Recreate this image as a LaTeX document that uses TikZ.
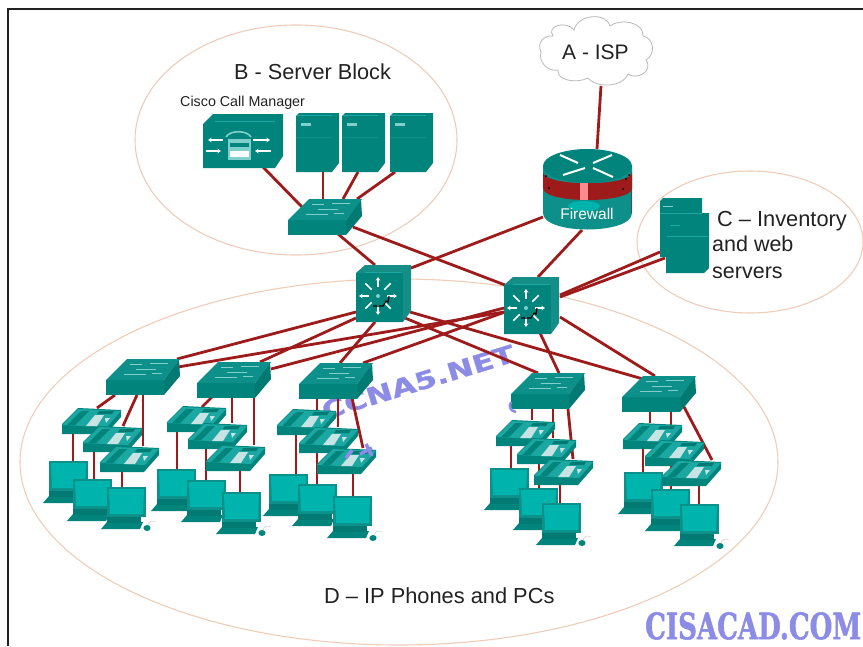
\documentclass[tikz,border=0pt]{standalone}
\usepackage{fontspec}
\usepackage{graphicx}
\setmainfont{Liberation Sans}
\newfontfamily\wmfont[FakeBold=1.5]{DejaVu Serif Bold}
\newfontfamily\wmsans[FakeBold=1]{DejaVu Sans Bold}
\usetikzlibrary{arrows.meta}
\pgfdeclarelayer{base}
\pgfdeclarelayer{links}
\pgfsetlayers{base,links,main}
\definecolor{tealA}{HTML}{00847C}
\definecolor{tealB}{HTML}{0E908A}
\definecolor{tealC}{HTML}{007A73}
\definecolor{tealL}{HTML}{1CA8A2}
\definecolor{tealS}{HTML}{00B4AE}
\definecolor{tealH}{HTML}{7FD0CC}
\definecolor{wire}{HTML}{9E1B1B}
\definecolor{peach}{HTML}{EFCDB8}
\definecolor{wm}{HTML}{8C8CE6}
\definecolor{ink}{HTML}{222222}
\tikzset{
  box/.style={anchor=north west,inner sep=0pt,outer sep=0pt},
  wirelink/.style={draw=wire,line width=2.8pt},
  zone/.style={draw=peach,line width=1.1pt,fill=white},
  label/.style={anchor=base west,inner sep=0pt,text=ink},
  hl/.style={draw=tealH,line width=.8pt},
  whitearrow/.style={white,line width=1.5pt,-{Stealth[length=3.5pt,width=4.5pt]}},
}
\newcommand{\lk}[4]{\draw[wirelink] ([shift={(#2)}]#1.north west) -- ([shift={(#4)}]#3.north west);}
\newcommand{\iconSwitch}[3]{%
  \node[box,minimum width=74pt,minimum height=36pt] (#1) at (#2,#3) {};
  \begin{scope}[shift={(#2,#3)}]
    \fill[tealC] (58,21) -- (73,0) -- (74,17) -- (58,36) -- cycle;
    \fill[tealA] (0,21) -- (58,21) -- (58,36) -- (0,36) -- cycle;
    \fill[tealB] (21,0) -- (74,0) -- (58,21) -- (0,21) -- cycle;
    \draw[hl] (24,5) -- (36,5) (44,4) -- (62,4) (30,10) -- (50,10) (18,15) -- (40,15) (46,14) -- (56,14);
  \end{scope}}
\newcommand{\iconCore}[3]{%
  \node[box,minimum width=56pt,minimum height=57pt] (#1) at (#2,#3) {};
  \begin{scope}[shift={(#2,#3)}]
    \fill[tealA!92!white] (0,8) -- (9,0) -- (55,0) -- (55,46) -- (47,57) -- (0,57) -- cycle;
    \fill[tealA] (0,8) -- (47,8) -- (47,57) -- (0,57) -- cycle;
    \draw[tealL,line width=.8pt] (9,7) -- (46,7);
    \foreach \a in {0,90,180,270}
      \draw[whitearrow] ({22+9*cos(\a)},{31+9*sin(\a)}) -- ({22+19*cos(\a)},{31+19*sin(\a)});
    \foreach \a in {45,135,225,315}
      \draw[white,line width=1.6pt] ({22+9*cos(\a)},{31+9*sin(\a)}) -- ({22+18*cos(\a)},{31+18*sin(\a)});
    \fill[tealH] (22,31) circle (2pt);
    \draw[black,line width=1.2pt] (17,41) -- (27,41) -- (30,36) -- (32,37) -- (33,31);
  \end{scope}}
\newcommand{\iconPhone}[3]{%
  \node[box,minimum width=59pt,minimum height=26pt] (#1) at (#2,#3) {};
  \begin{scope}[shift={(#2,#3)}]
    \fill[tealA] (0,16) -- (16,0) -- (59,2) -- (59,9) -- (44,26) -- (0,26) -- cycle;
    \fill[tealL] (0,17) -- (16,1) -- (59,3) -- (45,19) -- cycle;
    \fill[tealA] (5,17) -- (19,3) -- (27,3) -- (13,17) -- cycle;
    \fill[white!78!teal] (24,18) -- (33,7) -- (42,7) -- (35,18) -- cycle;
    \fill[tealC] (37,3) -- (52,3) -- (50,6) -- (35,6) -- cycle;
    \fill[white!78!teal] (43,10) -- (48,10) -- (44,15) -- cycle;
  \end{scope}}
\newcommand{\iconPC}[3]{%
  \node[box,minimum width=45pt,minimum height=42pt] (#1) at (#2,#3) {};
  \begin{scope}[shift={(#2,#3)}]
    \fill[tealA] (0,42) -- (6,35) -- (42,35) -- (39,42) -- cycle;
    \fill[tealC] (6,28) -- (40,28) -- (40,36) -- (6,36) -- cycle;
    \fill[tealB] (6,0) -- (45,0) -- (45,30) -- (6,30) -- cycle;
    \fill[tealS] (8,2) -- (43,2) -- (42,27) -- (9,27) -- cycle;
  \end{scope}}
\newcommand{\iconMouse}[2]{%
  \draw[gray!35,line width=.6pt] (#1+1,#2-1) .. controls (#1+1,#2-6) and (#1+6,#2-7) .. (#1+9,#2-5);
  \fill[tealA] (#1,#2+1) ellipse (3.6pt and 3pt);}
\newcommand{\iconTower}[3]{%
  \node[box,minimum width=43pt,minimum height=59pt] (#1) at (#2,#3) {};
  \begin{scope}[shift={(#2,#3)}]
    \fill[tealA] (0,3) -- (3,0) -- (43,0) -- (43,50) -- (36,59) -- (0,59) -- cycle;
    \fill[tealH] (5,10) rectangle (15,13);
    \draw[tealB,line width=.6pt] (0,24) -- (36,24);
    \draw[tealL,line width=.6pt] (1,2) -- (36,2);
  \end{scope}}
\begin{document}
\begin{tikzpicture}[x=1pt,y=-1pt]
\useasboundingbox (0,0) rectangle (863,646);
\begin{pgfonlayer}{base}
\fill[white] (0,0) rectangle (863,646);
\draw[ink,line width=2pt] (8,646) -- (8,9) -- (863,9);
\draw[zone] (296,140) ellipse (161pt and 115pt);
\draw[zone] (750,242) ellipse (113pt and 71pt);
\draw[zone] (399,462) ellipse (379pt and 183pt);
\node[text=wm,rotate=17,inner sep=0pt] (wmark) at (418,382) {\resizebox{200pt}{18pt}{\fontsize{30}{32}\selectfont\wmsans CCNA5.NET}};
\end{pgfonlayer}
% cloud
\node[box,minimum width=113pt,minimum height=68pt] (isp) at (539,17) {};
\draw[draw=gray!55,fill=white,line width=.8pt] (541,52)
  .. controls (536,42) and (545,35) .. (553,36)
  .. controls (546,26) and (566,20) .. (574,30)
  .. controls (578,14) and (606,12) .. (610,26)
  .. controls (620,18) and (644,22) .. (643,36)
  .. controls (654,38) and (656,54) .. (646,60)
  .. controls (654,72) and (636,80) .. (628,74)
  .. controls (622,88) and (596,88) .. (588,78)
  .. controls (576,84) and (556,80) .. (558,70)
  .. controls (548,72) and (538,62) .. (541,52) -- cycle;
% switches
\iconSwitch{sw1}{106}{359}
\iconSwitch{sw2}{197}{362}
\iconSwitch{sw3}{299}{363}
\iconSwitch{sw4}{511}{373}
\iconSwitch{sw5}{622}{376}
\iconSwitch{ss}{288}{199}
\iconCore{s1}{356}{265}
\iconCore{s2}{504}{277}
% PCs and phones
\iconPC{A1}{43}{461}\iconPC{A2}{67}{479}\iconPC{A3}{101}{487}
\iconPC{B1}{151}{469}\iconPC{B2}{181}{480}\iconPC{B3}{216}{492}
\iconPC{C1}{263}{474}\iconPC{C2}{292}{484}\iconPC{C3}{327}{496}
\iconPC{D1}{484}{468}\iconPC{D2}{513}{488}\iconPC{D3}{536}{503}
\iconPC{E1}{618}{472}\iconPC{E2}{645}{489}\iconPC{E3}{674}{504}
\iconPhone{a1}{62}{408}\iconPhone{a2}{83}{426}\iconPhone{a3}{100}{446}
\iconPhone{b1}{167}{406}\iconPhone{b2}{188}{423}\iconPhone{b3}{206}{445}
\iconPhone{c1}{277}{409}\iconPhone{c2}{299}{427}\iconPhone{c3}{317}{448}
\iconPhone{d1}{496}{420}\iconPhone{d2}{517}{438}\iconPhone{d3}{534}{459}
\iconPhone{e1}{623}{423}\iconPhone{e2}{645}{440}\iconPhone{e3}{662}{460}
\iconMouse{147}{527}\iconMouse{262}{532}\iconMouse{373}{537}\iconMouse{582}{542}\iconMouse{720}{545}
% servers
\iconTower{sv1}{296}{113}\iconTower{sv2}{342}{113}\iconTower{sv3}{390}{113}
% call manager
\node[box,minimum width=80pt,minimum height=54pt] (cm) at (203,114) {};
\begin{scope}[shift={(203,114)}]
  \fill[tealA] (0,10) -- (10,0) -- (80,0) -- (80,42) -- (72,54) -- (0,54) -- cycle;
  \draw[tealL,line width=1pt] (12,7) -- (72,7);
  \draw[tealH,line width=1.6pt] (23,23) .. controls (27,16) and (44,16) .. (48,23);
  \fill[tealH] (25,25) rectangle (48,46);
  \fill[tealA] (27,29) rectangle (46,33);
  \fill[white] (27,37) rectangle (46,43);
  \draw[whitearrow] (20,26) -- (5,26);
  \draw[whitearrow] (3,37) -- (18,37);
  \draw[whitearrow] (50,26) -- (67,26);
  \draw[whitearrow] (68,37) -- (52,37);
\end{scope}
% firewall
\node[box,minimum width=89pt,minimum height=81pt] (fw) at (543,149) {};
\begin{scope}[shift={(543,149)}]
  \fill[tealB] (0,17) -- (0,64) .. controls (0,86) and (89,86) .. (89,64) -- (89,17) -- cycle;
  \fill[tealS] (41,57) ellipse (16pt and 5pt);
  \draw[black!70,line width=1pt] (88.5,25) -- (88.5,64);
  \fill[wire] (0,23) .. controls (0,38) and (89,38) .. (89,23) -- (89,39) .. controls (89,55) and (0,55) .. (0,39) -- cycle;
  \fill[red!45!white] (37,33) rectangle (45,51);
  \fill[black] (3,27) circle (1pt) (6,39) circle (1pt) (83,30) circle (1.2pt) (86,26) circle (1pt) (80,40) circle (1pt);
  \fill[tealA] (44.5,17) ellipse (44.5pt and 17pt);
  \draw[white,line width=2pt] (17,6) -- (35,14) (69,6) -- (50,14) (20,26) -- (42,19) (70,28) -- (50,19);
  \node[anchor=base,inner sep=0pt,text=white,font=\fontsize{15.5}{17}\selectfont] (fwlabel) at (44,70) {Firewall};
\end{scope}
% inventory servers
\node[box,minimum width=49pt,minimum height=75pt] (csv) at (660,198) {};
\begin{scope}[shift={(660,198)}]
  \fill[tealA] (0,3) -- (3,0) -- (42,0) -- (42,59) -- (0,59) -- cycle;
  \draw[tealH,line width=1pt] (3,8) -- (13,8);
  \fill[tealA] (6,17) -- (9,15) -- (49,15) -- (49,70) -- (44,75) -- (6,75) -- cycle;
  \draw[tealL,line width=.8pt] (0,15) -- (42,15) (10,27) -- (20,27) (7,38) -- (48,38);
\end{scope}
% links, on the layer below the icons
\begin{pgfonlayer}{links}
\lk{isp}{62,69}{fw}{54,0}
\lk{fw}{0,68}{s1}{55,3}
\lk{fw}{39,81}{s2}{34,0}
\lk{cm}{60,53}{ss}{14,8}
\lk{sv1}{27,59}{ss}{35,0}
\lk{sv2}{16,59}{ss}{55,0}
\lk{sv3}{5,59}{ss}{69,0}
\lk{ss}{50,35}{s1}{19,0}
\lk{ss}{65,28}{s2}{1,8}
\lk{csv}{0,54}{s2}{56,18}
\lk{csv}{5,60}{s2}{56,20}
\lk{s1}{0,47}{sw1}{71,0}
\lk{s1}{0,53}{sw2}{63,0}
\lk{s1}{19,57}{sw3}{41,0}
\lk{s1}{49,53}{sw4}{27,0}
\lk{s1}{54,47}{sw5}{21,3}
\lk{s2}{0,35}{sw1}{72,8}
\lk{s2}{0,31}{sw2}{74,7}
\lk{s2}{1,35}{sw3}{64,0}
\lk{s2}{36,56}{sw4}{48,0}
\lk{s2}{56,40}{sw5}{33,0}
\lk{sw1}{9,36}{a1}{35,0}\lk{sw1}{31,36}{a2}{40,0}\lk{sw1}{37,36}{a3}{43,0}
\lk{a1}{11,25}{A1}{30,0}\lk{a2}{11,25}{A2}{27,1}\lk{a3}{22,25}{A3}{21,1}
\lk{sw2}{15,35}{b1}{35,1}\lk{sw2}{35,35}{b2}{44,0}\lk{sw2}{57,35}{b3}{48,0}
\lk{b1}{10,25}{B1}{26,1}\lk{b2}{18,25}{B2}{25,1}\lk{b3}{34,25}{B3}{24,0}
\lk{sw3}{18,35}{c1}{40,1}\lk{sw3}{39,35}{c2}{39,0}\lk{sw3}{53,35}{c3}{46,0}
\lk{c1}{19,25}{C1}{33,0}\lk{c2}{18,25}{C2}{25,0}\lk{c3}{36,25}{C3}{26,0}
\lk{sw4}{21,36}{d1}{36,0}\lk{sw4}{42,36}{d2}{36,0}\lk{sw4}{57,36}{d3}{39,0}
\lk{d1}{15,25}{D1}{27,0}\lk{d2}{22,25}{D2}{26,0}\lk{d3}{26,25}{D3}{24,0}
\lk{sw5}{28,36}{e1}{27,0}\lk{sw5}{49,36}{e2}{26,0}\lk{sw5}{61,29}{e3}{50,0}
\lk{e1}{20,25}{E1}{25,0}\lk{e2}{26,25}{E2}{26,0}\lk{e3}{37,25}{E3}{25,0}
\end{pgfonlayer}
% labels
\node[label,font=\fontsize{21.7}{24}\selectfont] (lb) at (234,79) {B - Server Block};
\node[label,font=\fontsize{14.3}{16}\selectfont] (lcm) at (180,106) {Cisco Call Manager};
\node[label,font=\fontsize{21}{24}\selectfont] (la) at (562,59) {A - ISP};
\node[label,font=\fontsize{21.8}{24}\selectfont] (lc1) at (717,226) {C -- Inventory};
\node[label,font=\fontsize{21.5}{24}\selectfont] (lc2) at (712,251) {and web};
\node[label,font=\fontsize{21.5}{24}\selectfont] (lc3) at (712,278) {servers};
\node[label,font=\fontsize{21.8}{24}\selectfont] (ld) at (324,603) {D -- IP Phones and PCs};
% watermark pieces
\draw[wm,line width=3.5pt] (346,458) -- (352,450) (360,454) -- (372,448) (366,444) -- (372,456);
\draw[wm,line width=2.5pt] (511,402) .. controls (508,407) and (511,411) .. (516,412);
\node[anchor=north west,inner sep=0pt,text=wm] (cisacad) at (645,612) {\resizebox{216pt}{27pt}{\fontsize{25}{27}\selectfont\wmfont CISACAD.COM}};
\end{tikzpicture}
\end{document}
